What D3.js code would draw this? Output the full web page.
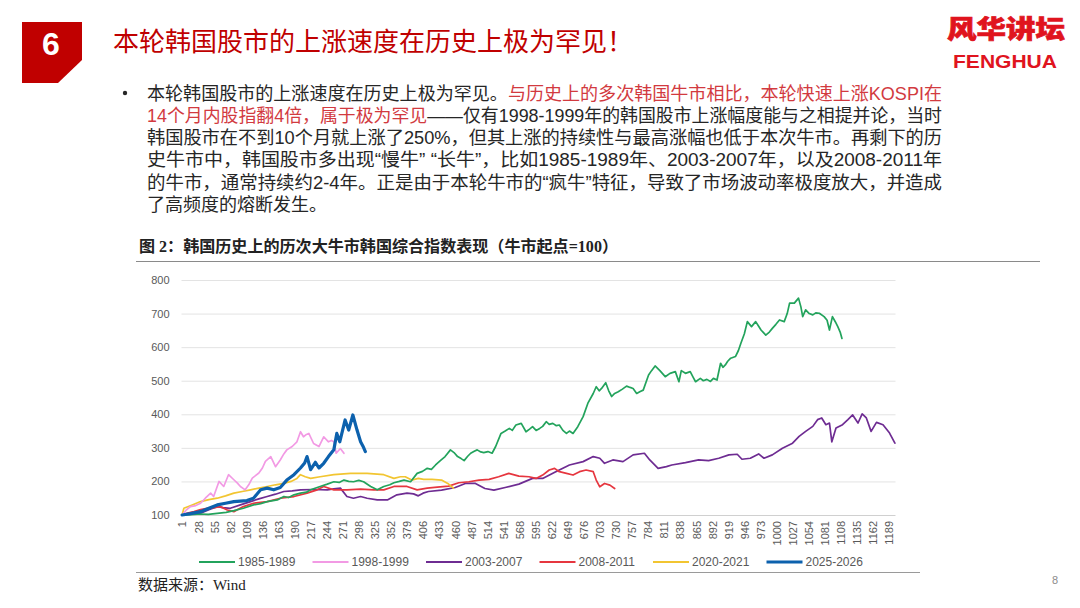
<!DOCTYPE html>
<html><head><meta charset="utf-8">
<script src="https://cdn.jsdelivr.net/npm/d3@7"></script>
<style>body{margin:0;background:#fff;} svg{display:block;}</style>
</head><body><svg id="c" width="1080" height="608"></svg>
<script>
// ---------- DATA ----------
const seriesNames = ["1985-1989","1998-1999","2003-2007","2008-2011","2020-2021","2025-2026"];
const seriesColors = ["#23a35c","#f29ae4","#6e2c92","#e6363f","#f2c531","#0c61ad"];
const yTicks = [100,200,300,400,500,600,700,800];
const xTicks = [1,28,55,82,109,136,163,190,217,244,271,298,325,352,379,406,433,460,487,514,541,568,595,622,649,676,703,730,757,784,811,838,865,892,919,946,973,1000,1027,1054,1081,1108,1135,1162,1189];

// [trading day, index value]
const s1985 = [[1,100],[15,101],[32,103],[45,102],[60,105],[75,108],[88,113],[104,120],[121,130],[133,134],[144,140],[161,145],[172,155],[180,152],[189,160],[200,165],[210,168],[217,175],[233,185],[245,192],[256,199],[265,197],[273,204],[281,200],[289,199],[298,203],[306,199],[318,185],[329,175],[340,185],[350,190],[357,196],[366,200],[374,204],[385,199],[396,224],[405,230],[413,239],[420,236],[427,249],[435,262],[443,274],[452,294],[458,286],[464,274],[470,268],[475,262],[481,275],[486,284],[492,290],[497,294],[503,288],[508,286],[515,289],[522,284],[528,304],[537,343],[544,350],[551,358],[556,352],[562,368],[571,373],[579,348],[585,356],[590,363],[596,352],[602,358],[607,364],[613,378],[618,370],[624,373],[630,366],[635,368],[641,352],[647,343],[652,350],[658,343],[666,363],[675,393],[683,433],[692,462],[697,482],[702,470],[706,477],[713,494],[718,470],[723,453],[728,462],[734,467],[741,475],[748,484],[754,480],[759,477],[765,462],[771,468],[776,472],[785,517],[790,530],[796,544],[804,530],[813,512],[821,522],[830,527],[836,497],[840,530],[847,522],[855,527],[860,510],[864,497],[872,507],[877,500],[883,504],[889,498],[894,507],[900,502],[906,552],[910,540],[914,547],[918,558],[923,567],[931,572],[936,590],[940,611],[946,640],[951,676],[958,661],[965,676],[970,662],[974,651],[982,636],[988,645],[993,656],[999,668],[1005,681],[1013,676],[1018,700],[1022,731],[1030,731],[1037,746],[1041,720],[1044,691],[1049,711],[1055,700],[1061,696],[1066,702],[1072,701],[1080,691],[1085,680],[1089,651],[1094,691],[1099,675],[1103,661],[1107,645],[1110,626]];
const s1998 = [[1,100],[8,115],[15,125],[24,128],[32,135],[40,150],[49,165],[54,155],[63,200],[71,185],[79,220],[88,205],[94,195],[99,185],[107,175],[113,190],[119,210],[130,225],[136,240],[141,260],[150,274],[158,244],[166,264],[172,282],[177,294],[186,304],[194,318],[200,348],[205,333],[210,340],[214,343],[222,313],[231,304],[239,333],[247,318],[252,322],[256,318],[260,284],[267,298],[273,284]];
const s2003 = [[1,100],[15,104],[32,105],[45,115],[60,125],[70,122],[82,120],[99,130],[116,140],[130,148],[144,155],[158,162],[172,170],[186,172],[200,175],[222,176],[245,175],[256,178],[267,180],[278,155],[289,150],[301,155],[312,150],[329,145],[346,145],[362,160],[379,165],[390,163],[398,157],[406,165],[415,170],[437,174],[460,182],[477,194],[494,194],[510,179],[525,174],[544,182],[567,192],[590,209],[607,209],[629,229],[652,249],[675,259],[692,274],[703,269],[711,254],[725,264],[742,259],[759,279],[778,284],[787,264],[801,239],[815,244],[824,249],[847,256],[869,264],[886,262],[903,269],[920,279],[934,281],[942,266],[956,269],[970,282],[979,269],[993,279],[1010,299],[1027,314],[1038,334],[1049,349],[1061,364],[1069,384],[1076,389],[1083,369],[1089,374],[1093,318],[1100,359],[1111,369],[1120,384],[1128,398],[1137,374],[1144,401],[1151,389],[1159,349],[1168,376],[1179,369],[1190,344],[1199,314]];
const s2008 = [[1,100],[10,106],[21,110],[32,116],[43,120],[55,122],[65,125],[77,115],[88,110],[96,118],[104,125],[121,135],[144,140],[166,150],[189,155],[211,165],[228,175],[239,185],[256,175],[278,175],[301,177],[323,175],[340,175],[357,185],[379,185],[396,175],[413,180],[430,183],[449,186],[466,196],[483,199],[500,204],[517,206],[533,214],[550,224],[567,216],[584,214],[596,209],[607,219],[618,234],[627,239],[635,229],[647,224],[658,219],[669,229],[680,234],[692,229],[697,204],[703,184],[711,194],[720,189],[728,179]];
const s2020 = [[1,100],[4,120],[18,130],[32,140],[46,146],[60,150],[74,157],[88,165],[102,170],[116,175],[130,180],[144,185],[158,190],[172,194],[184,200],[194,209],[200,220],[208,214],[217,209],[233,214],[256,220],[284,224],[312,224],[340,220],[357,209],[368,214],[376,214],[387,204],[398,209],[407,206],[421,206],[437,204],[449,192],[457,180]];
const s2025 = [[1,100],[15,104],[32,110],[46,120],[60,130],[74,135],[88,140],[110,143],[121,150],[133,175],[144,180],[155,175],[166,182],[177,204],[189,220],[200,240],[207,255],[211,274],[217,235],[225,257],[231,240],[239,254],[247,274],[256,294],[261,343],[266,318],[275,383],[281,353],[288,398],[295,353],[301,318],[305,305],[309,289]];
const seriesData = [s1985,s1998,s2003,s2008,s2020,s2025];

// ---------- DRAW ----------
const svg = d3.select("#c");
const FONT_CN = "'Liberation Sans','Noto Sans CJK SC',sans-serif";

// header badge
svg.append("polygon").attr("points","22,22 82,22 82,60 58,83 22,83").attr("fill","#c00000");
svg.append("text").attr("x",51).attr("y",55).attr("text-anchor","middle").attr("fill","#fff")
  .attr("font-family","'Liberation Sans',Arial,sans-serif").attr("font-weight","bold").attr("font-size",32).text("6");
svg.append("text").attr("x",113).attr("y",51).attr("fill","#c00000")
  .attr("font-family","'Noto Sans CJK SC',sans-serif").attr("font-size",26).text("本轮韩国股市的上涨速度在历史上极为罕见！");
// logo
svg.append("text").attr("x",947).attr("y",38).attr("fill","#e0141e").attr("stroke","#e0141e").attr("stroke-width",0.7)
  .attr("font-family","'Noto Sans CJK SC',sans-serif").attr("font-weight",900).attr("font-size",25)
  .attr("textLength",118).attr("lengthAdjust","spacingAndGlyphs").text("风华讲坛");
svg.append("text").attr("x",953).attr("y",68).attr("fill","#e0141e")
  .attr("font-family","'Liberation Sans',Arial,sans-serif").attr("font-weight","bold").attr("font-size",18)
  .attr("textLength",104).attr("lengthAdjust","spacingAndGlyphs").text("FENGHUA");

// bullet paragraph
const RED = "#d23a3f", BLK = "#262626";
const paraLines = [
  [["本轮韩国股市的上涨速度在历史上极为罕见。",BLK],["与历史上的多次韩国牛市相比，本轮快速上涨KOSPI在",RED]],
  [["14个月内股指翻4倍，属于极为罕见",RED],["——仅有1998-1999年的韩国股市上涨幅度能与之相提并论，当时",BLK]],
  [["韩国股市在不到10个月就上涨了250%，但其上涨的持续性与最高涨幅也低于本次牛市。再剩下的历",BLK]],
  [["史牛市中，韩国股市多出现“慢牛” “长牛”，比如1985-1989年、2003-2007年，以及2008-2011年",BLK]],
  [["的牛市，通常持续约2-4年。正是由于本轮牛市的“疯牛”特征，导致了市场波动率极度放大，并造成",BLK]],
  [["了高频度的熔断发生。",BLK]]
];
svg.append("circle").attr("cx",125).attr("cy",93).attr("r",2.2).attr("fill",BLK);
paraLines.forEach((segs,i)=>{
  const t = svg.append("text").attr("x",147).attr("y",99.5+i*22.3)
    .attr("font-family",FONT_CN).attr("font-size",18);
  if(i<5) t.attr("textLength",795).attr("lengthAdjust","spacingAndGlyphs");
  segs.forEach(s=>t.append("tspan").attr("fill",s[1]).text(s[0]));
});

// chart caption
svg.append("text").attr("x",139).attr("y",252).attr("fill","#222")
  .attr("font-family","'Liberation Serif','Noto Sans CJK SC',serif").attr("font-weight","bold").attr("font-size",16)
  .attr("textLength",479).attr("lengthAdjust","spacingAndGlyphs")
  .text("图 2：韩国历史上的历次大牛市韩国综合指数表现（牛市起点=100）");
svg.append("line").attr("x1",136).attr("x2",1040).attr("y1",261.5).attr("y2",261.5).attr("stroke","#8a8a8a").attr("stroke-width",1.2);
svg.append("line").attr("x1",136).attr("x2",920).attr("y1",572.5).attr("y2",572.5).attr("stroke","#9a9a9a").attr("stroke-width",1.2);
svg.append("text").attr("x",138).attr("y",590).attr("fill","#222")
  .attr("font-family","'Liberation Serif','Noto Sans CJK SC',serif").attr("font-size",15).text("数据来源：Wind");
svg.append("text").attr("x",1052).attr("y",584).attr("fill","#8c8c8c")
  .attr("font-family","'Liberation Sans',sans-serif").attr("font-size",11).text("8");

// scales
const x = d3.scaleLinear().domain([0,1200]).range([181.5,895.5]);
const y = d3.scaleLinear().domain([100,800]).range([515,280]);

// grid
const g = svg.append("g");
g.selectAll("line.grid").data(yTicks).join("line")
  .attr("x1",181.5).attr("x2",895.5).attr("y1",d=>y(d)+0.5).attr("y2",d=>y(d)+0.5)
  .attr("stroke",d=>d===100?"#d0d0d0":"#e3e3e3").attr("stroke-width",1);
const yAxis = d3.axisLeft(y).tickValues(yTicks).tickSize(0).tickPadding(12);
const ya = svg.append("g").attr("transform","translate(181.5,0)").call(yAxis);
ya.select(".domain").remove();
ya.selectAll("text").attr("fill","#595959").attr("font-family","'Liberation Sans',Arial,sans-serif").attr("font-size",11);

const xAxis = d3.axisBottom(x).tickValues(xTicks).tickSize(0).tickFormat(d3.format("d"));
const xa = svg.append("g").attr("transform","translate(0,515)").call(xAxis);
xa.select(".domain").remove();
xa.selectAll("text").attr("fill","#595959").attr("font-family","'Liberation Sans',Arial,sans-serif").attr("font-size",11)
  .attr("transform","rotate(-90)").attr("text-anchor","end").attr("x",-6).attr("y",0).attr("dy","0.35em");

// lines
const line = d3.line().x(d=>x(d[0])).y(d=>y(d[1]));
const order = [2,3,4,0,1,5];
order.forEach(i=>{
  svg.append("path").datum(seriesData[i]).attr("d",line).attr("fill","none")
    .attr("stroke",seriesColors[i]).attr("stroke-width",i===5?3.2:1.7)
    .attr("stroke-linejoin","round").attr("stroke-linecap","round");
});

// legend
seriesNames.forEach((n,i)=>{
  const lx = 199 + i*113.5;
  svg.append("line").attr("x1",lx).attr("x2",lx+36).attr("y1",562).attr("y2",562)
    .attr("stroke",seriesColors[i]).attr("stroke-width",i===5?3:2);
  svg.append("text").attr("x",lx+39).attr("y",566).attr("fill","#595959")
    .attr("font-family","'Liberation Sans',Arial,sans-serif").attr("font-size",12).text(n);
});
</script>
</body></html>
